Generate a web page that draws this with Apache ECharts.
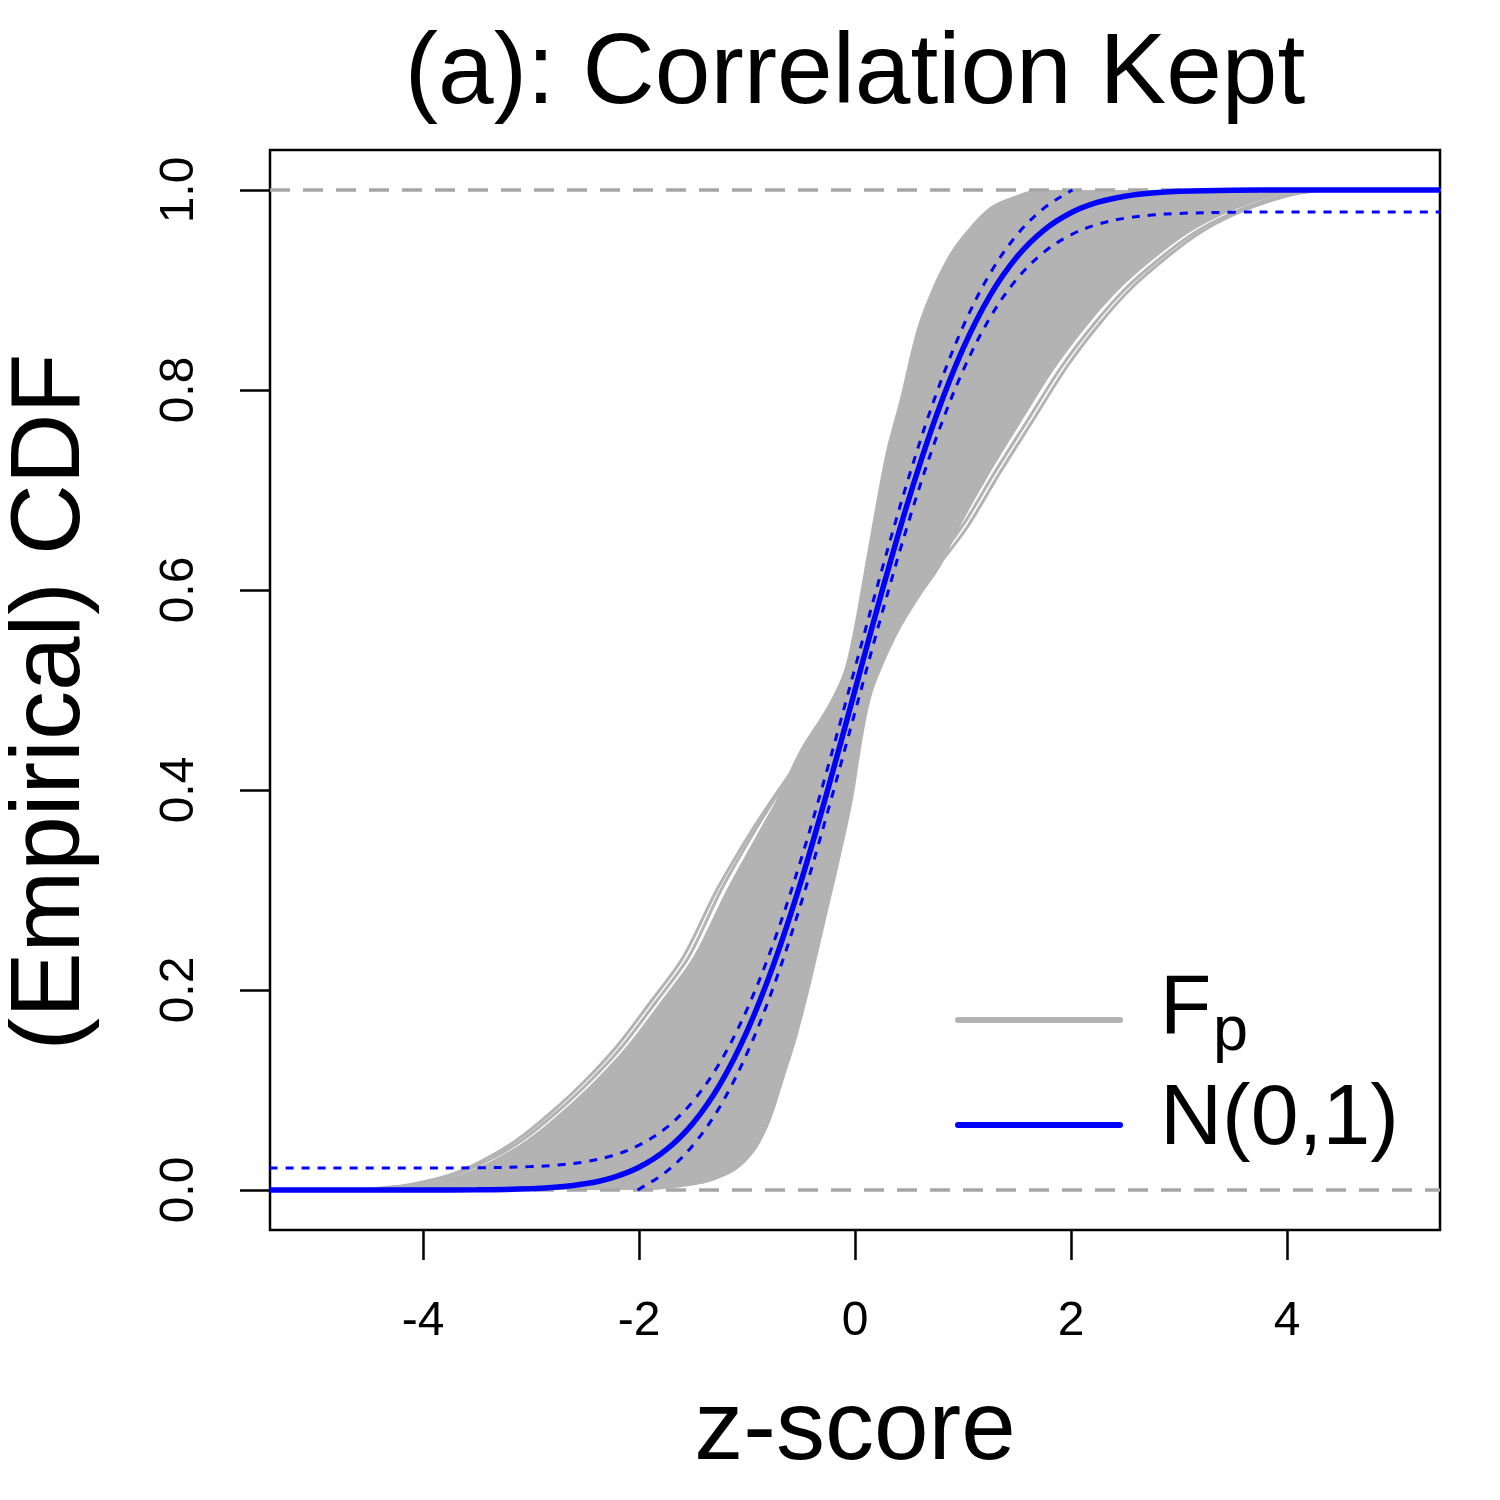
<!DOCTYPE html>
<html>
<head>
<meta charset="utf-8">
<script src="https://cdn.jsdelivr.net/npm/echarts@6/dist/echarts.min.js"></script>
<style>
html,body{margin:0;padding:0;background:#fff;}
#chart{width:1500px;height:1500px;}
</style>
</head>
<body>
<div id="chart"></div>
<script>
// ---- data ----
const xTicks = [-4, -2, 0, 2, 4];
const yTicks = [0, 0.2, 0.4, 0.6, 0.8, 1.0];

// N(0,1) CDF
const normalCdf = [[-5.42,0],[-4,0.00003],[-3.5,0.00023],[-3,0.00135],[-2.75,0.00298],[-2.5,0.00621],[-2.25,0.01222],[-2,0.02275],[-1.75,0.04006],[-1.5,0.06681],[-1.25,0.10565],[-1,0.15866],[-0.75,0.22663],[-0.5,0.30854],[-0.25,0.40129],[0,0.5],[0.25,0.59871],[0.5,0.69146],[0.75,0.77337],[1,0.84134],[1.25,0.89435],[1.5,0.93319],[1.75,0.95994],[2,0.97725],[2.25,0.98778],[2.5,0.99379],[2.75,0.99702],[3,0.99865],[3.5,0.99977],[4,0.99997],[5.42,1]];

// dotted confidence band
const upperBand = [[-5.42,0.022],[-4,0.022],[-3.5,0.0222],[-3,0.0234],[-2.75,0.025],[-2.5,0.0282],[-2.25,0.0342],[-2,0.0448],[-1.75,0.0621],[-1.5,0.0888],[-1.25,0.1277],[-1,0.1807],[-0.75,0.2486],[-0.5,0.3305],[-0.25,0.4233],[0,0.522],[0.25,0.6207],[0.5,0.7135],[0.75,0.7954],[1,0.8633],[1.25,0.9164],[1.5,0.9552],[1.75,0.9819],[2,0.9992],[2.014,1.0]];
const lowerBand = [[-2.014,0],[-2,0.0008],[-1.75,0.0181],[-1.5,0.0448],[-1.25,0.0836],[-1,0.1367],[-0.75,0.2046],[-0.5,0.2865],[-0.25,0.3793],[0,0.478],[0.25,0.5767],[0.5,0.6695],[0.75,0.7514],[1,0.8193],[1.25,0.8723],[1.5,0.9112],[1.75,0.9379],[2,0.9552],[2.25,0.9658],[2.5,0.9718],[2.75,0.975],[3,0.9766],[3.5,0.9778],[4,0.978],[5.42,0.978]];

// envelope of the dense bundle of empirical CDFs (outline, clockwise)
const bundleLeftEdge = [[-4.5,0],[-4.1,0.004],[-3.9,0.008],[-3.66,0.015],[-3.35,0.030],[-3.04,0.050],[-2.73,0.077],[-2.43,0.107],[-2.12,0.143],[-1.81,0.187],[-1.50,0.233],[-1.19,0.30],[-0.90,0.357],[-0.73,0.39],[-0.51,0.44],[-0.26,0.483],[-0.11,0.517],[-0.02,0.557],[0.08,0.617],[0.20,0.69],[0.29,0.74],[0.42,0.793],[0.57,0.86],[0.72,0.903],[0.88,0.937],[1.04,0.96],[1.25,0.983],[1.50,0.995],[1.68,1.0]];
const bundleRightEdge = [[4.33,1.0],[4.02,0.997],[3.71,0.988],[3.40,0.975],[3.09,0.957],[2.79,0.933],[2.47,0.903],[2.17,0.867],[1.86,0.823],[1.55,0.77],[1.25,0.717],[0.97,0.663],[0.79,0.623],[0.60,0.593],[0.39,0.555],[0.17,0.50],[0.08,0.457],[-0.02,0.39],[-0.14,0.33],[-0.27,0.27],[-0.40,0.21],[-0.53,0.155],[-0.66,0.11],[-0.78,0.07],[-0.92,0.04],[-1.1,0.02],[-1.35,0.008],[-1.6,0.003],[-1.9,0]];

// separated individual curves at the edges of the bundle
const lowTailA = [[-4.6,0],[-4.2,0.004],[-4.0,0.008],[-3.75,0.015],[-3.44,0.030],[-3.13,0.050],[-2.82,0.077],[-2.52,0.107],[-2.21,0.143],[-1.90,0.187],[-1.59,0.233],[-1.28,0.30],[-0.97,0.357],[-0.77,0.39],[-0.45,0.44]];
const lowTailB = [[-4.55,0],[-4.15,0.004],[-3.95,0.008],[-3.70,0.015],[-3.39,0.030],[-3.08,0.050],[-2.77,0.077],[-2.47,0.107],[-2.16,0.143],[-1.85,0.187],[-1.54,0.233],[-1.24,0.30],[-0.94,0.357],[-0.75,0.39],[-0.45,0.44]];
const highTailA = [[0.7,0.615],[1.04,0.663],[1.34,0.717],[1.65,0.77],[1.96,0.823],[2.27,0.867],[2.57,0.903],[2.89,0.933],[3.19,0.957],[3.5,0.975],[3.81,0.988],[4.12,0.997],[4.43,1.0],[5.42,1.0]];
const highTailB = [[0.66,0.615],[1.0,0.665],[1.29,0.717],[1.60,0.77],[1.91,0.823],[2.22,0.867],[2.52,0.903],[2.84,0.933],[3.14,0.957],[3.45,0.975],[3.76,0.988],[4.07,0.997],[4.38,1.0],[5.42,1.0]];

const refLines = [0, 1];
const titleText = '(a): Correlation Kept';
const xName = 'z-score';
const yName = '(Empirical) CDF';

// ---- chart ----
const FONT = '"Liberation Sans", Arial, Helvetica, sans-serif';
const GRAY = '#B3B3B3';
const XMIN = -5.4167, XMAX = 5.4167;
const chart = echarts.init(document.getElementById('chart'), null, {renderer: 'canvas'});

const bundlePoly = bundleLeftEdge.concat(bundleRightEdge);

function grayLine(data) {
  return {type: 'line', data: data, showSymbol: false, smooth: 0.3,
    lineStyle: {color: GRAY, width: 3}, silent: true, animation: false};
}

const series = [
  {
    type: 'custom', clip: true, silent: true, animation: false,
    data: [[0, 0]],
    renderItem: function (params, api) {
      const lo = api.coord([XMIN, 1]);
      const hi = api.coord([XMAX, 0]);
      return {type: 'polygon',
        shape: {points: bundlePoly.map(p => api.coord(p)), smooth: 0.3, smoothConstraint: [lo, hi]},
        style: {fill: GRAY}};
    }
  },
  grayLine(lowTailA), grayLine(lowTailB), grayLine(highTailA), grayLine(highTailB)
];
refLines.forEach(v => series.push({
  type: 'line', data: [[XMIN, v], [XMAX, v]], showSymbol: false, silent: true, animation: false,
  lineStyle: {color: '#A6A6A6', width: 3.5, type: [20, 13]}
}));
[upperBand, lowerBand].forEach(d => series.push({
  type: 'line', data: d, showSymbol: false, smooth: 0.35, silent: true, animation: false,
  lineStyle: {color: '#0000FF', width: 3, type: [8, 8]}
}));
series.push({
  type: 'line', data: normalCdf, showSymbol: false, smooth: 0.35, silent: true, animation: false,
  lineStyle: {color: '#0000FF', width: 5.5}
});

chart.setOption({
  backgroundColor: '#ffffff',
  animation: false,
  grid: {left: 270, top: 150, width: 1170, height: 1080, show: true, borderColor: '#000', borderWidth: 2.5, backgroundColor: 'transparent'},
  xAxis: {
    type: 'value', min: XMIN, max: XMAX,
    axisLine: {show: false, onZero: false},
    splitLine: {show: false},
    axisTick: {show: true, inside: false, length: 30, customValues: xTicks, lineStyle: {color: '#000', width: 2.5}},
    axisLabel: {show: true, customValues: xTicks, margin: 68, fontSize: 48, fontFamily: FONT, color: '#000',
      formatter: v => String(v)}
  },
  yAxis: {
    type: 'value', min: -0.04, max: 1.04,
    axisLine: {show: false, onZero: false},
    splitLine: {show: false},
    axisTick: {show: true, inside: false, length: 30, customValues: yTicks, lineStyle: {color: '#000', width: 2.5}},
    axisLabel: {show: true, customValues: yTicks, rotate: 90, margin: 66, fontSize: 48, fontFamily: FONT, color: '#000',
      formatter: v => Number(v).toFixed(1)}
  },
  graphic: [
    {type: 'text', x: 855, y: 75, style: {text: titleText, fontSize: 100, fontFamily: FONT, fill: '#000', align: 'center', verticalAlign: 'middle', textAlign: 'center', textVerticalAlign: 'middle'}},
    {type: 'text', x: 855, y: 1432, style: {text: xName, fontSize: 98, fontFamily: FONT, fill: '#000', align: 'center', verticalAlign: 'middle', textAlign: 'center', textVerticalAlign: 'middle'}},
    {type: 'text', x: 52, y: 702, rotation: Math.PI / 2, style: {text: yName, fontSize: 98, fontFamily: FONT, fill: '#000', align: 'center', verticalAlign: 'middle', textAlign: 'center', textVerticalAlign: 'middle'}},
    {type: 'line', shape: {x1: 958, y1: 1020, x2: 1120, y2: 1020}, style: {stroke: GRAY, lineWidth: 6, lineCap: 'round'}},
    {type: 'line', shape: {x1: 958, y1: 1125, x2: 1120, y2: 1125}, style: {stroke: '#0000FF', lineWidth: 6, lineCap: 'round'}},
    {type: 'text', x: 1160, y: 1010, style: {text: 'F', fontSize: 84, fontFamily: FONT, fill: '#000', align: 'left', verticalAlign: 'middle', textAlign: 'left', textVerticalAlign: 'middle'}},
    {type: 'text', x: 1213, y: 1033, style: {text: 'p', fontSize: 63, fontFamily: FONT, fill: '#000', align: 'left', verticalAlign: 'middle', textAlign: 'left', textVerticalAlign: 'middle'}},
    {type: 'text', x: 1160, y: 1120, style: {text: 'N(0,1)', fontSize: 86, fontFamily: FONT, fill: '#000', align: 'left', verticalAlign: 'middle', textAlign: 'left', textVerticalAlign: 'middle'}}
  ],
  series: series
});
</script>
</body>
</html>
